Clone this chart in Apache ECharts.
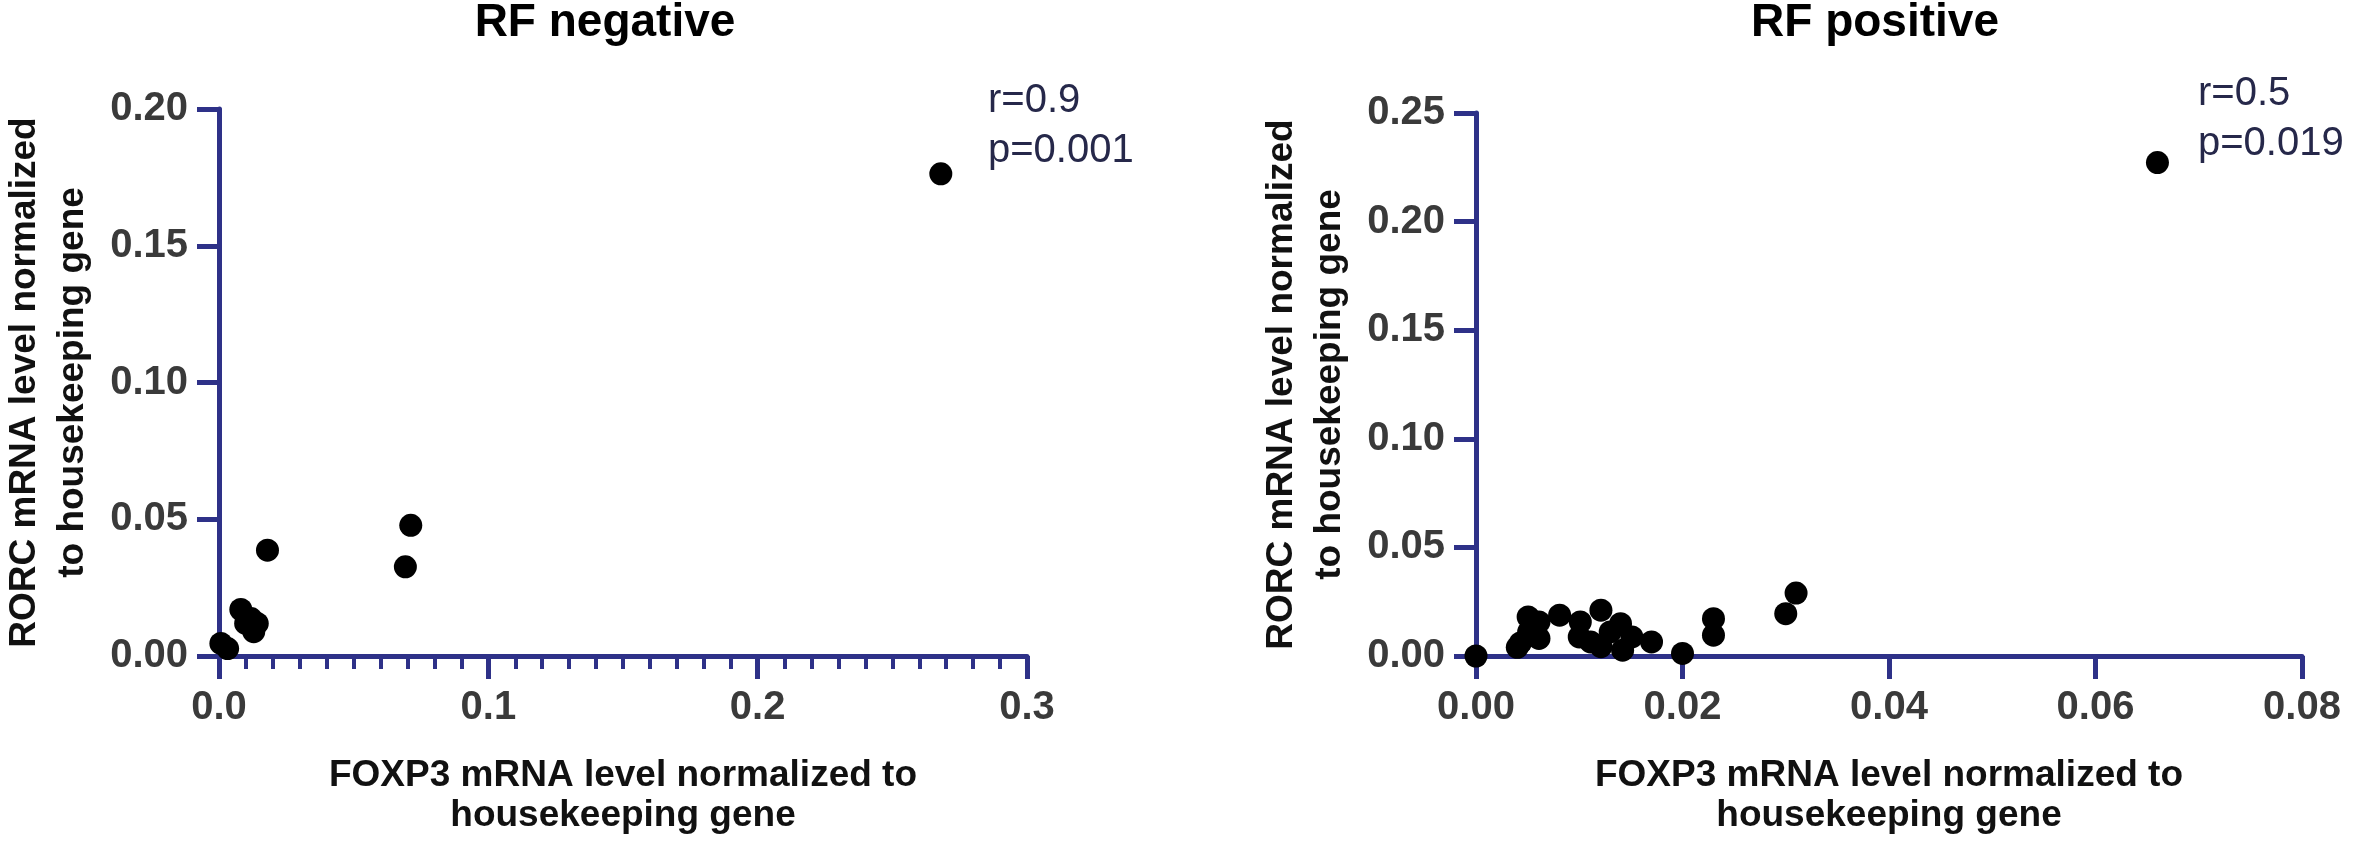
<!DOCTYPE html>
<html>
<head>
<meta charset="utf-8">
<script src="https://cdn.jsdelivr.net/npm/echarts@6/dist/echarts.min.js"></script>
<style>
  html, body { margin: 0; padding: 0; background: #fff; }
  #chart { width: 2362px; height: 841px; }
</style>
</head>
<body>
<div id="chart"></div>
<script>
// RF negative: FOXP3 (x) vs RORC (y)
var negX = [0.0007, 0.0032, 0.0081, 0.0099, 0.0119, 0.0142, 0.0129, 0.018, 0.0692, 0.0712, 0.268];
var negY = [0.0046, 0.0027, 0.017, 0.0119, 0.0137, 0.0119, 0.0089, 0.0387, 0.0326, 0.0478, 0.1763];
// RF positive
var posX = [0, 0.0040, 0.0043, 0.00505, 0.0051, 0.0061, 0.0061, 0.0081, 0.0101, 0.0100, 0.0111, 0.0121,
            0.0121, 0.0130, 0.0140, 0.0142, 0.0151, 0.0170, 0.0200, 0.0230, 0.0230, 0.0300, 0.0310, 0.066];
var posY = [0, 0.0040, 0.0060, 0.0180, 0.0111, 0.0157, 0.0081, 0.0188, 0.0157, 0.0088, 0.0065, 0.0043,
            0.0211, 0.0111, 0.0149, 0.0027, 0.0088, 0.0065, 0.0012, 0.0172, 0.0096, 0.0195, 0.0290, 0.2272];

var titles = ['RF negative', 'RF positive'];
var stats = ['r=0.9\np=0.001', 'r=0.5\np=0.019'];
var xName = 'FOXP3 mRNA level normalized to\nhousekeeping gene';
var yName = 'RORC mRNA level normalized\nto housekeeping gene';

var navy = '#2e3188';
var font = 'Liberation Sans, Arial, sans-serif';

function pairs(xs, ys) {
    var out = [];
    for (var i = 0; i < xs.length; i++) out.push([xs[i], ys[i]]);
    return out;
}

function xAxisCfg(idx, max, step, digits, minor) {
    return {
        gridIndex: idx, type: 'value', min: 0, max: max, interval: step,
        name: xName, nameLocation: 'middle', nameGap: 100,
        nameTextStyle: { fontFamily: font, fontSize: 37, fontWeight: 'bold', color: '#111', lineHeight: 40 },
        axisLine: { onZero: false, lineStyle: { color: navy, width: 5 } },
        axisTick: { length: 23, lineStyle: { color: navy, width: 5 } },
        minorTick: { show: minor, splitNumber: 10, length: 13, lineStyle: { color: navy, width: 4 } },
        splitLine: { show: false },
        axisLabel: {
            margin: 32, fontFamily: font, fontSize: 40, fontWeight: 'bold', color: '#3a3a3a',
            formatter: function (v) { return v.toFixed(digits); }
        }
    };
}

function yAxisCfg(idx, max) {
    return {
        gridIndex: idx, type: 'value', min: 0, max: max, interval: 0.05,
        name: yName, nameLocation: 'middle', nameGap: 122,
        nameTextStyle: { fontFamily: font, fontSize: 37, fontWeight: 'bold', color: '#111', lineHeight: 48 },
        axisLine: { onZero: false, lineStyle: { color: navy, width: 5 } },
        axisTick: { length: 22, lineStyle: { color: navy, width: 5 } },
        splitLine: { show: false },
        axisLabel: {
            margin: 31, fontFamily: font, fontSize: 40, fontWeight: 'bold', color: '#3a3a3a',
            formatter: function (v) { return v.toFixed(2); }
        }
    };
}

var chart = echarts.init(document.getElementById('chart'));
var option = {
    animation: false,
    backgroundColor: '#fff',
    title: [
        { text: titles[0], left: 605, top: 0, padding: 0, textAlign: 'center',
          textStyle: { fontFamily: font, fontSize: 46, fontWeight: 'bold', color: '#000' } },
        { text: titles[1], left: 1875, top: 0, padding: 0, textAlign: 'center',
          textStyle: { fontFamily: font, fontSize: 46, fontWeight: 'bold', color: '#000' } },
        // r / p values
        { text: stats[0], left: 988, top: 76, padding: 0,
          textStyle: { fontFamily: font, fontSize: 40, fontWeight: 'normal', color: '#26284a', lineHeight: 50 } },
        { text: stats[1], left: 2198, top: 69, padding: 0,
          textStyle: { fontFamily: font, fontSize: 40, fontWeight: 'normal', color: '#26284a', lineHeight: 50 } }
    ],
    grid: [
        { left: 208, top: 109, width: 819, height: 547 },
        { left: 1476, top: 113, width: 826, height: 546 }
    ],
    xAxis: [
        xAxisCfg(0, 0.3, 0.1, 1, true),
        xAxisCfg(1, 0.08, 0.02, 2, false)
    ],
    yAxis: [
        yAxisCfg(0, 0.2),
        yAxisCfg(1, 0.25)
    ],
    series: [
        { type: 'scatter', xAxisIndex: 0, yAxisIndex: 0, symbolSize: 23, clip: false,
          itemStyle: { color: '#000', opacity: 1 }, data: pairs(negX, negY) },
        { type: 'scatter', xAxisIndex: 1, yAxisIndex: 1, symbolSize: 23, clip: false,
          itemStyle: { color: '#000', opacity: 1 }, data: pairs(posX, posY) }
    ]
};
chart.setOption(option);
</script>
</body>
</html>
